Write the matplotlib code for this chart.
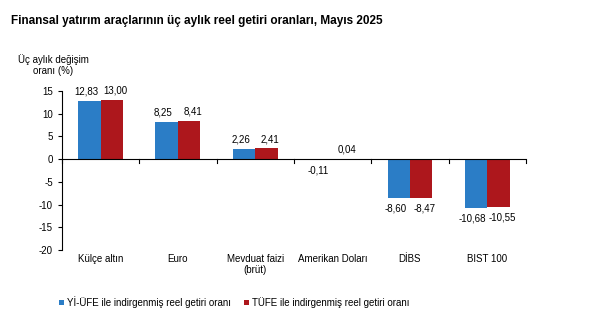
import matplotlib
matplotlib.use("Agg")
import matplotlib.pyplot as plt
import numpy as np

categories = ["Külçe altın", "Euro", "Mevduat faizi\n(brüt)", "Amerikan Doları", "DİBS", "BIST 100"]
yiufe = [12.83, 8.25, 2.26, -0.11, -8.60, -10.68]
tufe = [13.00, 8.41, 2.41, 0.04, -8.47, -10.55]
series_names = ["Yİ-ÜFE ile indirgenmiş reel getiri oranı", "TÜFE ile indirgenmiş reel getiri oranı"]
yticks = [-20, -15, -10, -5, 0, 5, 10, 15]

plt.rcParams['font.family'] = ['Liberation Sans', 'DejaVu Sans']
plt.rcParams['axes.unicode_minus'] = False

blue = '#2b7dc6'
red = '#ad171c'

fig = plt.figure(figsize=(6.13, 3.26), dpi=100)
ax = fig.add_axes([0.101, 0.233, 0.757, 0.488])

x = np.arange(len(categories))
w = 0.29
b1 = ax.bar(x - w / 2, yiufe, w, color=blue, label=series_names[0])
b2 = ax.bar(x + w / 2, tufe, w, color=red, label=series_names[1])

def fmt(v):
    return f"{v:.2f}".replace('.', ',')

# small sideways nudge so neighbouring labels don't collide
for bars, vals, dx in [(b1, yiufe, -2.5), (b2, tufe, 2.5)]:
    for bar, v in zip(bars, vals):
        cx = bar.get_x() + bar.get_width() / 2
        if v >= 0:
            ax.annotate(fmt(v), (cx, v), xytext=(dx, 3), textcoords='offset points',
                        ha='center', va='bottom', fontsize=7)
        else:
            ax.annotate(fmt(v), (cx, v), xytext=(dx, -4), textcoords='offset points',
                        ha='center', va='top', fontsize=7)

ax.set_xlim(-0.5, len(categories) - 0.5)
ax.set_ylim(-20, 15)
ax.set_yticks(yticks)
ax.tick_params(axis='y', labelsize=7, length=3, width=0.8, direction='out')

for s in ['top', 'right', 'bottom']:
    ax.spines[s].set_visible(False)
ax.spines['left'].set_linewidth(0.8)
ax.axhline(0, color='black', lw=0.8)
for b in np.arange(-0.5, len(categories), 1.0):
    ax.plot([b, b], [0, -0.8], color='black', lw=0.8, clip_on=False)

ax.set_xticks([])
for i, c in enumerate(categories):
    ax.text(i, -20.8, c, ha='center', va='top', fontsize=7)

fig.text(0.018, 0.935, "Finansal yatırım araçlarının üç aylık reel getiri oranları, Mayıs 2025",
         fontsize=8.5, fontweight='bold', ha='left', va='center')
fig.text(0.087, 0.8, "Üç aylık değişim\noranı (%)", fontsize=7, ha='center', va='center')

fig.legend(handles=[b1, b2], loc='center', bbox_to_anchor=(0.382, 0.074), ncol=2,
           frameon=False, fontsize=7, handlelength=0.5, handleheight=0.5,
           handletextpad=0.3, columnspacing=1.3)

fig.savefig("out.png", dpi=100)
